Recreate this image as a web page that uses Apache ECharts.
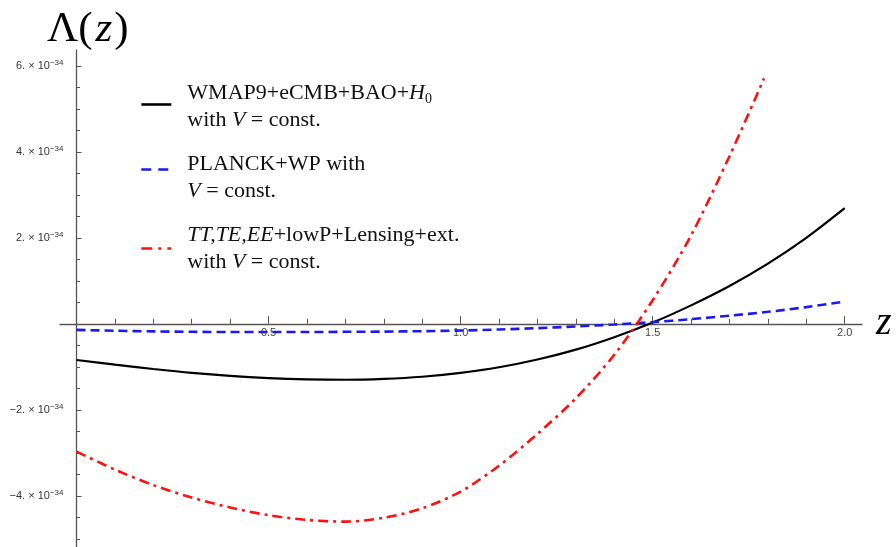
<!DOCTYPE html>
<html>
<head>
<meta charset="utf-8">
<script src="https://cdn.jsdelivr.net/npm/echarts@6/dist/echarts.min.js"></script>
<style>
  html, body { margin: 0; padding: 0; background: #ffffff; }
  #chart { width: 896px; height: 547px; }
</style>
</head>
<body>
<div id="chart"></div>
<script>
// Redshift samples for the two full-range curves
const zSteps = [0, 0.1, 0.2, 0.3, 0.4, 0.5, 0.6, 0.7, 0.8, 0.9, 1.0,
                1.1, 1.2, 1.3, 1.4, 1.5, 1.6, 1.7, 1.8, 1.9, 2.0];
// Λ(z) in units of 1e-34
const lambdaWmap9 = [-0.84, -0.95, -1.05, -1.14, -1.21, -1.26, -1.29, -1.30, -1.28, -1.23, -1.14,
                     -1.01, -0.83, -0.60, -0.31, 0.03, 0.43, 0.88, 1.40, 2.00, 2.69];
const lambdaPlanck = [-0.14, -0.16, -0.175, -0.185, -0.19, -0.19, -0.19, -0.185, -0.18, -0.17, -0.155,
                      -0.13, -0.10, -0.06, -0.015, 0.04, 0.11, 0.19, 0.28, 0.39, 0.52];
// The TT,TE,EE curve leaves the frame just before z = 1.8
const zStepsExt = [0, 0.1, 0.2, 0.3, 0.4, 0.5, 0.6, 0.7, 0.8, 0.9, 1.0,
                   1.1, 1.2, 1.3, 1.4, 1.5, 1.6, 1.7, 1.79];
const lambdaExt = [-2.97, -3.39, -3.75, -4.04, -4.27, -4.45, -4.56, -4.60, -4.51, -4.29, -3.90,
                   -3.30, -2.56, -1.73, -0.72, 0.55, 2.06, 3.90, 5.71];

const seriesNames = [
  'WMAP9+eCMB+BAO+H0 with V = const.',
  'PLANCK+WP with V = const.',
  'TT,TE,EE+lowP+Lensing+ext. with V = const.'
];
const legendRich = [
  '{n|WMAP9+eCMB+BAO+}{i|H}{s|0}\n{n|with }{i|V}{n| = const.}',
  '{n|PLANCK+WP with}\n{i|V}{n| = const.}',
  '{i|TT,TE,EE}{n|+lowP+Lensing+ext.}\n{n|with }{i|V}{n| = const.}'
];

// Tick positions (Λ in units of 1e-34, z plain)
const yMajorTicks = [-4, -2, 2, 4, 6];
const yMinorTicks = [-5, -4.5, -3.5, -3, -2.5, -1.5, -1, -0.5, 0.5, 1, 1.5, 2.5, 3, 3.5, 4.5, 5, 5.5];
const xMajorTicks = [0.5, 1.0, 1.5, 2.0];
const xMinorTicks = [0.1, 0.2, 0.3, 0.4, 0.6, 0.7, 0.8, 0.9, 1.1, 1.2, 1.3, 1.4, 1.6, 1.7, 1.8, 1.9];

const pairs = (xs, ys) => xs.map((x, i) => [x, ys[i]]);

const serif = 'Liberation Serif, Times New Roman, serif';
const sans = 'Liberation Sans, Arial, sans-serif';
const axisGray = '#555555';
const textRich = {
  n: { fontFamily: serif, fontSize: 22, color: '#111', lineHeight: 27 },
  i: { fontFamily: serif, fontSize: 22, color: '#111', lineHeight: 27, fontStyle: 'italic' },
  s: { fontFamily: serif, fontSize: 14, color: '#111', lineHeight: 12, verticalAlign: 'bottom' }
};

const GRID = { left: 60, top: 50, width: 802, height: 497 };

// padTop lifts the key line relative to the two-line caption
function legendAt(idx, top, padTop, lineStyle) {
  return {
    data: [{ name: seriesNames[idx], lineStyle: lineStyle }],
    left: 140, top: top, padding: 0,
    orient: 'vertical',
    itemWidth: 30, itemHeight: 14,
    selectedMode: false,
    itemStyle: { opacity: 0 },
    formatter: () => legendRich[idx],
    textStyle: { fontFamily: serif, fontSize: 22, color: '#111', padding: [padTop, 0, 0, 11], rich: textRich }
  };
}

const chart = echarts.init(document.getElementById('chart'), null, { renderer: 'canvas' });
chart.setOption({
  animation: false,
  backgroundColor: '#ffffff',
  title: {
    text: '{u|Λ(}{i|z}{u|)}',
    left: 47, top: 8, padding: 0,
    textStyle: {
      fontWeight: 'normal',
      rich: {
        u: { fontFamily: serif, fontSize: 43, color: '#000', fontWeight: 'normal' },
        i: { fontFamily: serif, fontSize: 43, color: '#000', fontStyle: 'italic', fontWeight: 'normal', padding: [0, 2, 0, 3] }
      }
    }
  },
  legend: [
    legendAt(0, 82, 4, { width: 2.6 }),
    legendAt(1, 153, 16, { width: 2.6, type: [10, 7] }),
    legendAt(2, 224, 0, { width: 2.6, type: [11, 6, 3, 6] })
  ],
  grid: Object.assign({ containLabel: false, outerBoundsMode: 'none' }, GRID),
  xAxis: [
    {
      type: 'value', min: -0.043, max: 2.045, position: 'bottom',
      name: 'z', nameLocation: 'end', nameGap: 14,
      nameTextStyle: { fontFamily: serif, fontStyle: 'italic', fontSize: 40, color: '#000', verticalAlign: 'middle' },
      axisLine: { show: true, onZero: false, lineStyle: { color: axisGray, width: 1.3 } },
      axisTick: { show: true, inside: true, length: 8, customValues: xMajorTicks, lineStyle: { color: axisGray, width: 1 } },
      axisLabel: {
        customValues: xMajorTicks, margin: 4, fontFamily: sans, fontSize: 11, color: '#444',
        formatter: v => v.toFixed(1)
      },
      splitLine: { show: false }
    },
    {
      type: 'value', min: -0.043, max: 2.045, position: 'bottom',
      axisLine: { show: false, onZero: false },
      axisTick: { show: true, inside: true, length: 5, customValues: xMinorTicks, lineStyle: { color: axisGray, width: 1 } },
      axisLabel: { show: false },
      splitLine: { show: false }
    }
  ],
  yAxis: [
    {
      type: 'value', min: -5.19, max: 6.37, position: 'left',
      axisLine: { show: true, onZero: false, lineStyle: { color: axisGray, width: 1.3 } },
      axisTick: { show: true, inside: true, length: 5, customValues: yMajorTicks, lineStyle: { color: axisGray, width: 1 } },
      axisLabel: {
        customValues: yMajorTicks, margin: 13,
        formatter: v => {
          const sign = v < 0 ? '−' : '';
          return '{m|' + sign + Math.abs(v) + '. × 10}{e|−34}';
        },
        rich: {
          m: { fontFamily: sans, fontSize: 11, color: '#333', lineHeight: 14 },
          e: { fontFamily: sans, fontSize: 8, color: '#333', lineHeight: 8, verticalAlign: 'top' }
        }
      },
      splitLine: { show: false }
    },
    {
      type: 'value', min: -5.19, max: 6.37, position: 'left',
      axisLine: { show: false, onZero: false },
      axisTick: { show: true, inside: true, length: 3.5, customValues: yMinorTicks, lineStyle: { color: axisGray, width: 1 } },
      axisLabel: { show: false },
      splitLine: { show: false }
    }
  ],
  series: [
    {
      name: seriesNames[0], type: 'line', smooth: 0.3, symbol: 'none',
      xAxisIndex: 0, yAxisIndex: 0,
      lineStyle: { color: '#000000', width: 2.2 },
      itemStyle: { color: '#000000' },
      data: pairs(zSteps, lambdaWmap9)
    },
    {
      name: seriesNames[1], type: 'line', smooth: 0.3, symbol: 'none',
      xAxisIndex: 0, yAxisIndex: 0,
      lineStyle: { color: '#1a1aee', width: 2.6, type: [9, 5] },
      itemStyle: { color: '#1a1aee' },
      data: pairs(zSteps, lambdaPlanck)
    },
    {
      name: seriesNames[2], type: 'line', smooth: 0.3, symbol: 'none',
      xAxisIndex: 0, yAxisIndex: 0,
      lineStyle: { color: '#ff1010', width: 2.6, type: [10, 5, 3, 5] },
      itemStyle: { color: '#ff1010' },
      data: pairs(zStepsExt, lambdaExt)
    }
  ]
});

// Move both axes (line, ticks and labels) so they cross at the origin of the data scale
const origin = chart.convertToPixel({ gridIndex: 0 }, [0, 0]);
const xShift = -(GRID.top + GRID.height - origin[1]);
const yShift = -(origin[0] - GRID.left);
chart.setOption({
  xAxis: [{ offset: xShift }, { offset: xShift }],
  yAxis: [{ offset: yShift }, { offset: yShift }]
});
</script>
</body>
</html>
